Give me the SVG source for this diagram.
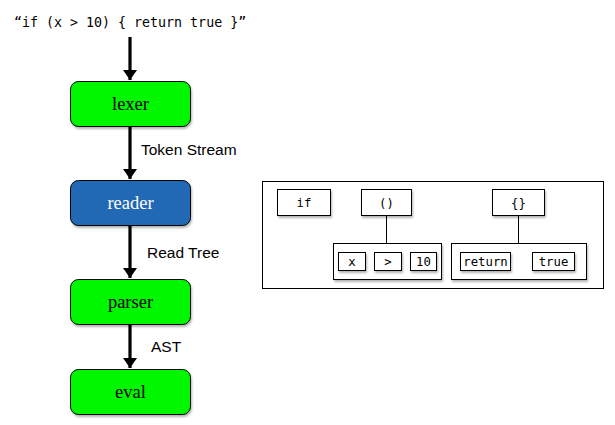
<svg xmlns="http://www.w3.org/2000/svg" width="615" height="425" viewBox="0 0 615 425">
<defs>
<filter id="sh" x="-20%" y="-20%" width="150%" height="160%">
<feGaussianBlur in="SourceAlpha" stdDeviation="1.2"/>
<feOffset dx="1" dy="2" result="b"/>
<feComponentTransfer><feFuncA type="linear" slope="0.3"/></feComponentTransfer>
<feMerge><feMergeNode/><feMergeNode in="SourceGraphic"/></feMerge>
</filter>
<marker id="ah" viewBox="0 0 10 14" refX="10" refY="7" markerWidth="10" markerHeight="14" markerUnits="userSpaceOnUse" orient="auto">
<path d="M0,0 L10,7 L0,14 Z" fill="#000"/>
</marker>
</defs>
<style>
.stage{stroke:#000;stroke-width:1}
.green{fill:#00f700}
.blue{fill:#2169b5}
.nl{font-family:"Liberation Serif",serif;font-size:18.5px;text-anchor:middle}
.el{font-family:"Liberation Sans",Arial,sans-serif;font-size:15.5px}
.mono{font-family:"DejaVu Sans Mono","Liberation Mono",monospace;font-size:12.3px;text-anchor:middle}
.tb{fill:#fff;stroke:#000;stroke-width:1}
.conn{stroke:#000;stroke-width:3.2;fill:none}
.thin{stroke:#000;stroke-width:1;fill:none}
</style>
<text x="14" y="27" font-family="DejaVu Sans Mono, Liberation Mono, monospace" font-size="13.3px">“if (x &gt; 10) { return true }”</text>
<g id="connectors">
<line class="conn" x1="130" y1="37" x2="130" y2="80" marker-end="url(#ah)"/>
<line class="conn" x1="130" y1="127" x2="130" y2="179" marker-end="url(#ah)"/>
<line class="conn" x1="130" y1="225" x2="130" y2="278" marker-end="url(#ah)"/>
<line class="conn" x1="130" y1="324" x2="130" y2="368" marker-end="url(#ah)"/>
<text class="el" x="141" y="155">Token Stream</text>
<text class="el" x="147" y="258">Read Tree</text>
<text class="el" x="151" y="352">AST</text>
</g>
<g id="lexer"><rect class="stage green" x="70.5" y="81.5" width="120" height="45" rx="8" filter="url(#sh)"/><text class="nl" x="130.5" y="110">lexer</text></g>
<g id="reader"><rect class="stage blue" x="70.5" y="180.5" width="120" height="45" rx="8" filter="url(#sh)"/><text class="nl" x="130.5" y="209" fill="#fff">reader</text></g>
<g id="parser"><rect class="stage green" x="70.5" y="279.5" width="120" height="45" rx="8" filter="url(#sh)"/><text class="nl" x="130.5" y="308">parser</text></g>
<g id="eval"><rect class="stage green" x="70.5" y="369.5" width="120" height="45" rx="8" filter="url(#sh)"/><text class="nl" x="130.5" y="398">eval</text></g>
<g id="readtree">
<rect x="262.5" y="181.5" width="341" height="107" fill="#fff" stroke="#000"/>
<line class="thin" x1="386.5" y1="216" x2="386.5" y2="243"/>
<line class="thin" x1="518.5" y1="216" x2="518.5" y2="243"/>
<g id="n-if"><rect class="tb" x="277.5" y="189.5" width="53" height="26" filter="url(#sh)"/><text class="mono" x="304" y="207">if</text></g>
<g id="n-paren"><rect class="tb" x="361.5" y="189.5" width="50" height="26" filter="url(#sh)"/><text class="mono" x="386.5" y="207">()</text></g>
<g id="n-brace"><rect class="tb" x="492.5" y="189.5" width="52" height="26" filter="url(#sh)"/><text class="mono" x="518.5" y="207">{}</text></g>
<g id="g-cond"><rect class="tb" x="333.5" y="243.5" width="108" height="36" filter="url(#sh)"/>
<rect class="tb" x="338.5" y="252.5" width="27" height="18" filter="url(#sh)"/><text class="mono" x="352" y="266">x</text>
<rect class="tb" x="374.5" y="252.5" width="27" height="18" filter="url(#sh)"/><text class="mono" x="388" y="266">&gt;</text>
<rect class="tb" x="410.5" y="252.5" width="26" height="18" filter="url(#sh)"/><text class="mono" x="423.5" y="266">10</text>
</g>
<g id="g-body"><rect class="tb" x="451.5" y="243.5" width="135" height="36" filter="url(#sh)"/>
<rect class="tb" x="460.5" y="252.5" width="50" height="18" filter="url(#sh)"/><text class="mono" x="485.5" y="266">return</text>
<rect class="tb" x="532.5" y="252.5" width="42" height="18" filter="url(#sh)"/><text class="mono" x="553.5" y="266">true</text>
</g>
</g>
</svg>
